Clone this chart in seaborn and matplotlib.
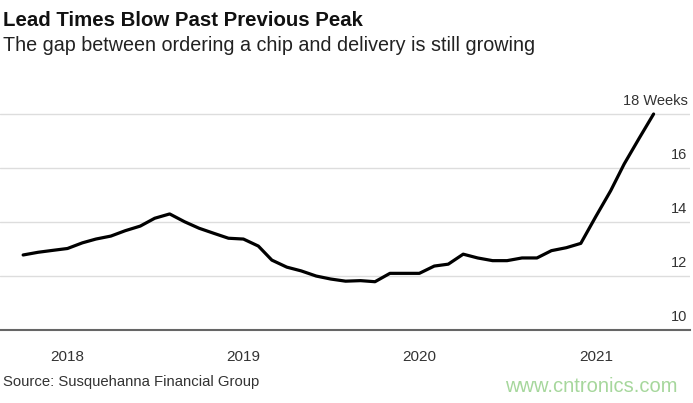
import matplotlib
matplotlib.use("Agg")
import matplotlib.pyplot as plt
import matplotlib.transforms as mtrans
import seaborn as sns
import pandas as pd

# monthly lead times (weeks), Oct 2017 - May 2021
months = pd.date_range("2017-10-01", "2021-05-01", freq="MS")
weeks = [12.78, 12.88, 12.95,
         13.02, 13.23, 13.37, 13.48, 13.68, 13.85, 14.14, 14.30, 14.01, 13.77, 13.58, 13.40,
         13.37, 13.11, 12.59, 12.33, 12.19, 12.00, 11.89, 11.81, 11.83, 11.79, 12.10, 12.10,
         12.10, 12.37, 12.44, 12.81, 12.67, 12.57, 12.57, 12.67, 12.67, 12.94, 13.05, 13.21,
         14.20, 15.16, 16.15, 17.10, 18.00]
year_ticks = ["2018", "2019", "2020", "2021"]
y_ticks = [10, 12, 14, 16]

df = pd.DataFrame({"Month": months, "Weeks": weeks})

sns.set_style("white")
plt.rcParams["font.family"] = ["Liberation Sans", "DejaVu Sans"]

fig = plt.figure(figsize=(6.93, 4.03), dpi=100)
ax = fig.add_axes([0.0, 0.181, 0.996, 0.583])

sns.lineplot(data=df, x="Month", y="Weeks", color="black", linewidth=2.3, ax=ax)

ax.set_xlim(pd.Timestamp("2017-08-14"), pd.Timestamp("2021-07-16"))
ax.set_ylim(10, 18.7)

ax.set_xticks([pd.Timestamp(y + "-01-01") for y in year_ticks])
ax.set_xticklabels(year_ticks)
ax.tick_params(axis="x", length=5, width=1, color="#555555", pad=9,
               labelsize=11, labelcolor="#333333", direction="out")

ax.yaxis.tick_right()
ax.set_yticks([10, 12, 14, 16, 18])
ax.set_yticklabels([str(v) for v in y_ticks] + ["18 Weeks"])
ax.tick_params(axis="y", length=0, pad=-2, labelsize=10.5, labelcolor="#333333")
offset = mtrans.ScaledTranslation(0, 15 / 100, fig.dpi_scale_trans)
for lab in ax.get_yticklabels():
    lab.set_horizontalalignment("right")
    lab.set_transform(lab.get_transform() + offset)

ax.grid(axis="y", color="#dddddd", linewidth=1)
ax.grid(axis="x", visible=False)
for side in ["top", "left", "right"]:
    ax.spines[side].set_visible(False)
ax.spines["bottom"].set_color("#666666")
ax.spines["bottom"].set_linewidth(1.5)
ax.set_xlabel("")
ax.set_ylabel("")

fig.text(0.004, 0.950, "Lead Times Blow Past Previous Peak", fontsize=14.7,
         fontweight="bold", color="#111111", va="center", ha="left")
fig.text(0.004, 0.887, "The gap between ordering a chip and delivery is still growing",
         fontsize=14.2, color="#222222", va="center", ha="left")
fig.text(0.004, 0.052, "Source: Susquehanna Financial Group", fontsize=10.7,
         color="#333333", va="center", ha="left")
fig.text(0.977, 0.040, "www.cntronics.com", fontsize=14.5, color="#a6d79c",
         va="center", ha="right")

fig.savefig("out.png", dpi=100)
